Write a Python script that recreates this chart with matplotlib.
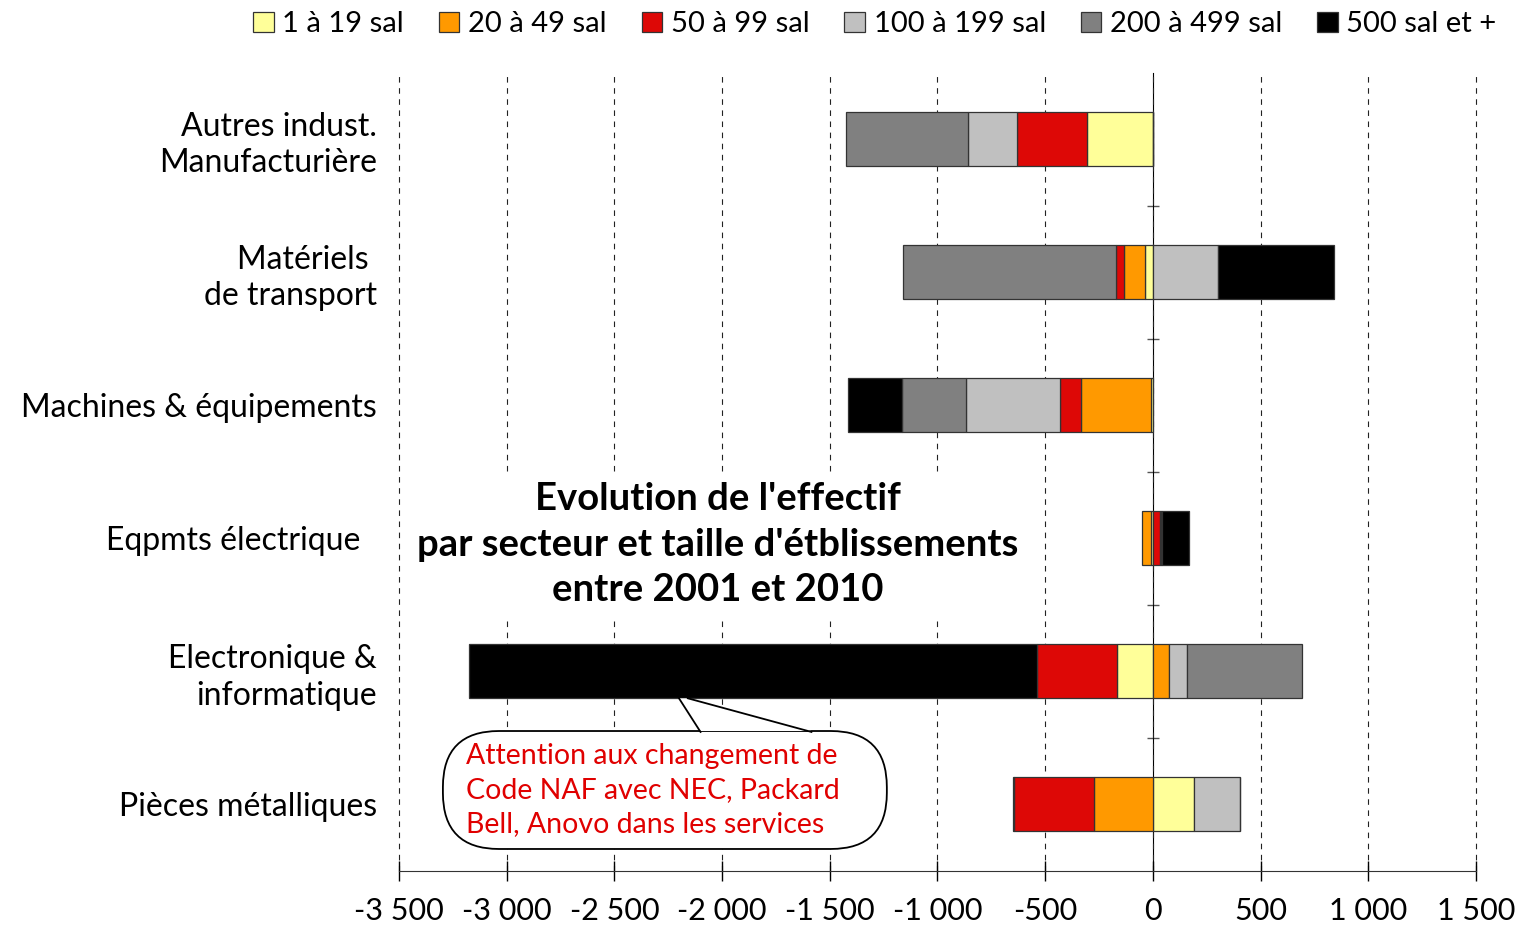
import numpy as np
import matplotlib
matplotlib.use("Agg")
import matplotlib.pyplot as plt
from matplotlib.patches import Patch, FancyBboxPatch, Polygon

plt.rcParams.update({"font.family": ["Lato", "DejaVu Sans"], "font.size": 20})

# sectors, top to bottom
sectors = ["Autres indust.\nManufacturière", "Matériels \nde transport",
           "Machines & équipements", "Eqpmts électrique  ",
           "Electronique &\ninformatique", "Pièces métalliques"]
size_classes = ["1 à 19 sal", "20 à 49 sal", "50 à 99 sal",
                "100 à 199 sal", "200 à 499 sal", "500 sal et +"]
colors = ["#FFFF99", "#FF9900", "#DD0806", "#C0C0C0", "#808080", "#000000"]

# change in headcount 2001-2010, one list per size class (same order as sectors)
s_1_19 = [-306, -37, -10, -8, -167, 189]
s_20_49 = [0, -96, -324, -42, 77, -274]
s_50_99 = [-325, -37, -98, 34, -373, -371]
s_100_199 = [-229, 303, -435, 5, 82, 217]
s_200_499 = [-565, -989, -296, 5, 533, 0]
s_500_plus = [0, 536, -254, 124, -2633, -5]
series = [s_1_19, s_20_49, s_50_99, s_100_199, s_200_499, s_500_plus]

xticks = np.arange(-3500, 1501, 500)

fig = plt.figure(figsize=(15.21, 9.26), dpi=100)
ax = fig.add_axes([0.2623, 0.0599, 0.9704 - 0.2623, 0.9217 - 0.0599])

y = np.arange(len(sectors))
pos = np.zeros(len(sectors)); neg = np.zeros(len(sectors))
for vals, col, lab in zip(series, colors, size_classes):
    v = np.array(vals, dtype=float)
    left = np.where(v >= 0, pos, neg)
    ax.barh(y, v, left=left, height=0.4, color=col, edgecolor="#333333",
            linewidth=0.9, zorder=3, label=lab)
    pos += np.where(v > 0, v, 0); neg += np.where(v < 0, v, 0)

ax.set_xlim(xticks[0], xticks[-1])
ax.set_ylim(len(sectors) - 0.5, -0.5)
ax.set_xticks(xticks)
ax.set_xticklabels([f"{t:,}".replace(",", " ") for t in xticks], fontsize=22)
ax.set_yticks(y)
ax.set_yticklabels(sectors, linespacing=1.27, fontsize=23)
ax.tick_params(axis="y", length=0, pad=16)
ax.tick_params(axis="x", length=14, direction="inout", pad=12, width=1)
for s in ["left", "right", "top"]:
    ax.spines[s].set_visible(False)
ax.spines["bottom"].set_color("#333333")
ax.grid(axis="x", color="#222222", linestyle=(0, (5, 5)), linewidth=0.8, zorder=0)
for gl in ax.get_xgridlines():
    gl.set_clip_on(False)

# zero axis with category separator ticks
loc0 = (0 - xticks[0]) / (xticks[-1] - xticks[0])
sec = ax.secondary_yaxis(loc0)
sec.set_yticks(y[:-1] + 0.5)
sec.set_yticklabels([])
sec.tick_params(length=9, direction="inout", labelleft=False, labelright=False,
                color="#555555", width=1)
sec.spines["left"].set_color("#666666")
sec.spines["left"].set_linewidth(1.3)

# title inside plot
ax.text(-2020, 3.05, "Evolution de l'effectif\npar secteur et taille d'étblissements\nentre 2001 et 2010",
        ha="center", va="center", fontsize=27.5, fontweight="bold", linespacing=1.42,
        bbox=dict(facecolor="white", edgecolor="none", pad=6), zorder=4)

# callout
asp = (1 / 133) / (5000 / 1077)
box = FancyBboxPatch((-3296, 4.451), 2061, 0.887,
                     boxstyle="round,pad=0,rounding_size=260", mutation_aspect=asp,
                     facecolor="white", edgecolor="black", linewidth=1.3, zorder=5)
ax.add_patch(box)
ax.add_patch(Polygon([(-2200, 4.205), (-2100, 4.451), (-1585, 4.451), (-2159, 4.205)],
                     closed=True, facecolor="white", edgecolor="none", zorder=6))
ax.plot([-2200, -2100], [4.205, 4.458], color="black", lw=1.3, zorder=7)
ax.plot([-2159, -1585], [4.205, 4.458], color="black", lw=1.3, zorder=7)
ax.text(-3190, 4.895, "Attention aux changement de\nCode NAF avec NEC, Packard\nBell, Anovo dans les services",
        ha="left", va="center", color="#E00000", fontsize=20.5, linespacing=1.38, zorder=8)

handles = [Patch(facecolor=c, edgecolor="#333333", linewidth=0.9) for c in colors]
fig.legend(handles, size_classes, loc="center", bbox_to_anchor=(875 / 1521, 1 - 24 / 926),
           ncol=6, frameon=False, handlelength=0.7, handleheight=0.7, handletextpad=0.3,
           columnspacing=1.2, fontsize=21)

fig.savefig("out.png", dpi=100)
